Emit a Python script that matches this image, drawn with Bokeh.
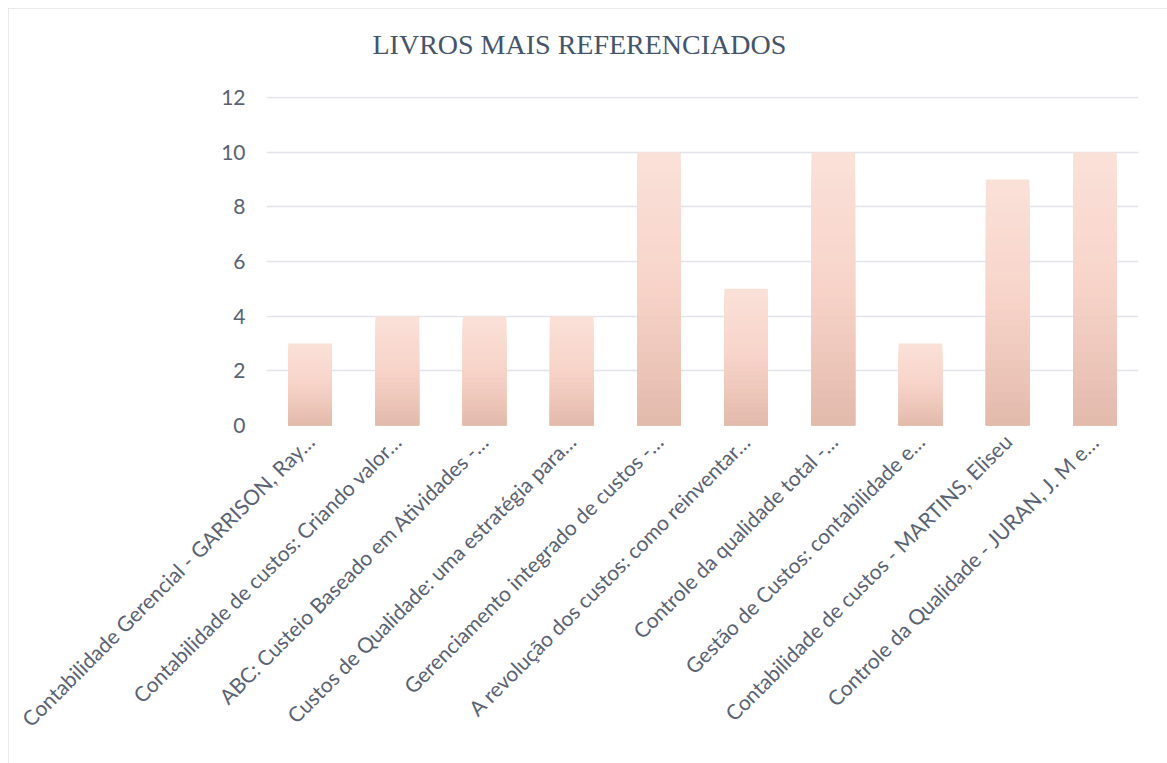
from bokeh.plotting import figure
from bokeh.models import FactorRange, Range1d, FixedTicker, ColumnDataSource, Title
from bokeh.embed import file_html
from bokeh.resources import INLINE
import math

# ---- data ----
books = [
    "Contabilidade Gerencial - GARRISON, Ray…",
    "Contabilidade de custos: Criando valor…",
    "ABC: Custeio Baseado em Atividades -…",
    "Custos de Qualidade: uma estratégia para…",
    "Gerenciamento integrado de custos -…",
    "A revolução dos custos: como reinventar…",
    "Controle da qualidade total -…",
    "Gestão de Custos: contabilidade e…",
    "Contabilidade de custos - MARTINS, Eliseu",
    "Controle da Qualidade - JURAN, J. M e…",
]
counts = [3, 4, 4, 4, 10, 5, 10, 3, 9, 10]
y_ticks = [0, 2, 4, 6, 8, 10, 12]
title_text = "LIVROS MAIS REFERENCIADOS"

# ---- style ----
TEXT_COLOR = "#596273"
GRID_COLOR = "#e1e4ea"
# gradient stops (fraction of bar height from bottom -> rgb)
stops = [(0.0, (226, 186, 172)), (0.25, (238, 199, 187)), (0.55, (248, 213, 203)), (1.0, (250, 225, 217))]


def grad_color(f):
    for (f0, c0), (f1, c1) in zip(stops[:-1], stops[1:]):
        if f0 <= f <= f1:
            t = (f - f0) / (f1 - f0) if f1 > f0 else 0
            c = tuple(int(round(a + (b - a) * t)) for a, b in zip(c0, c1))
            return "#%02x%02x%02x" % c
    return "#%02x%02x%02x" % stops[-1][1]


p = figure(
    width=1159, height=755,
    x_range=FactorRange(*books, range_padding=0),
    y_range=Range1d(0, 12.04),
    output_backend="svg", toolbar_location=None,
    min_border_left=258, min_border_right=29, min_border_top=88, min_border_bottom=338,
)
p.styles = {"margin-left": "8px", "margin-top": "8px",
            "outline": "3px solid #dfe3ea", "outline-offset": "-3px"}
p.outline_line_color = None

# stepped vertical gradient: layered bars, each a fraction of the data value
N = 30
for k in range(N):
    f = 1 - k / N
    src = ColumnDataSource(dict(x=books, top=[v * f for v in counts]))
    p.vbar(x="x", top="top", bottom=0, width=0.5, source=src,
           fill_color=grad_color(f - 0.5 / N), line_color=None)

# spacer panel between the plot frame and the title (pushes the title up)
spacer = Title(text=" ", text_font_size="12px", standoff=16)
p.add_layout(spacer, "above")
main_title = Title(text=title_text, align="left", offset=106,
                   text_font="Liberation Serif", text_font_size="28px",
                   text_font_style="normal", text_color="#44546a")
p.add_layout(main_title, "above")

p.yaxis.ticker = FixedTicker(ticks=y_ticks)
p.yaxis.axis_line_color = None
p.yaxis.major_tick_line_color = None
p.yaxis.minor_tick_line_color = None
p.yaxis.major_label_text_font = "Lato"
p.yaxis.major_label_text_font_size = "21px"
p.yaxis.major_label_text_color = TEXT_COLOR
p.yaxis.major_label_standoff = 15

p.xaxis.axis_line_color = None
p.xaxis.major_tick_line_color = None
p.xaxis.major_label_orientation = math.pi / 4
p.xaxis.major_label_text_font = "Lato"
p.xaxis.major_label_text_font_size = "21px"
p.xaxis.major_label_text_color = TEXT_COLOR
p.xaxis.major_label_standoff = 6

p.xgrid.grid_line_color = None
p.ygrid.grid_line_color = GRID_COLOR
p.ygrid.grid_line_width = 1.5
p.ygrid.ticker = FixedTicker(ticks=y_ticks)
p.background_fill_color = "white"
p.border_fill_color = "white"

open("out.html", "w").write(file_html(p, INLINE))
